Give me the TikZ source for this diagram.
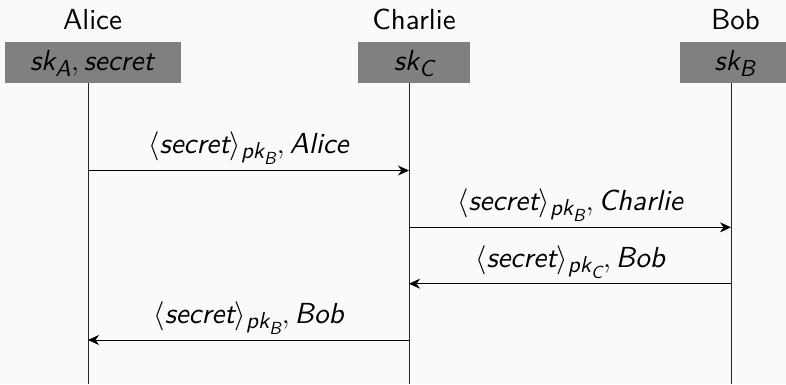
\documentclass[tikz,border=0pt]{standalone}
\usepackage{fix-cm}
\usepackage{fontspec}
\setsansfont{lmsans10-regular.otf}[ItalicFont=lmsans10-oblique.otf, SlantedFont=lmsans10-oblique.otf]
\newfontfamily\sfslfam{lmsans10-oblique.otf}[NFSSFamily=lmsssl]
\usetikzlibrary{arrows.meta}
\DeclareMathAlphabet{\mathsi}{TU}{lmsssl}{m}{n}
\DeclareMathSizes{29}{29}{23}{17.5}
\definecolor{bg}{HTML}{FAFAFA}
\definecolor{boxgray}{HTML}{808080}
\newcommand{\enc}[2]{$\langle\mathsi{secret}\rangle_{\mathsi{pk}_{\mathsi{#1}}},\mathsi{#2}$}
\begin{document}
\begin{tikzpicture}[x=1pt,y=-1pt,
  every node/.style={font=\fontsize{29}{34}\selectfont\sffamily, inner sep=0pt},
  hdr/.style={anchor=base},
  keybox/.style={fill=boxgray, draw=none, minimum height=41pt},
  life/.style={line width=0.9pt, draw=black!85},
  msg/.style={line width=0.9pt, -{Stealth[length=11pt,width=10pt,inset=3.5pt]}},
  lbl/.style={anchor=base}]
\fill[bg] (0,0) rectangle (786,384);
\useasboundingbox (0,0) rectangle (786,384);
% headers
\node[hdr] (tA) at (92.5,29) {Alice};
\node[hdr] (tC) at (414,29) {Charlie};
\node[hdr] (tB) at (735.5,29) {Bob};
% boxes
\node[keybox, minimum width=176pt] (bA) at (93,62.5) {};
\node[keybox, minimum width=112pt] (bC) at (414,62.5) {};
\node[keybox, minimum width=112pt] (bB) at (736,62.5) {};
\node[lbl] (kA) at (92,70.7) {$\mathsi{sk}_{\mathsi{A}},\mathsi{secret}$};
\node[lbl] (kC) at (414,70.7) {$\mathsi{sk}_{\mathsi{C}}$};
\node[lbl] (kB) at (735,70.7) {$\mathsi{sk}_{\mathsi{B}}$};
% lifelines
\coordinate (A0) at (88,83);  \coordinate (A9) at (88,384);
\coordinate (C0) at (409,83); \coordinate (C9) at (409,384);
\coordinate (B0) at (731,83); \coordinate (B9) at (731,384);
\draw[life] (A0) -- (A9);
\draw[life] (C0) -- (C9);
\draw[life] (B0) -- (B9);
% message end points
\coordinate (A1) at (88,170.5);  \coordinate (C1) at (409,170.5);
\coordinate (C2) at (409,227.3); \coordinate (B2) at (731,227.3);
\coordinate (B3) at (731,283.7); \coordinate (C3) at (409,283.7);
\coordinate (C4) at (409,340);   \coordinate (A4) at (88,340);
\draw[msg] (A1) -- (C1);
\draw[msg] (C2) -- (B2);
\draw[msg] (B3) -- (C3);
\draw[msg] (C4) -- (A4);
% labels
\node[lbl] (m1) at (248.5,153) {\enc{B}{Alice}};
\node[lbl] (m2) at (570,210) {\enc{B}{Charlie}};
\node[lbl] (m3) at (570,267) {\enc{C}{Bob}};
\node[lbl] (m4) at (248.5,323) {\enc{B}{Bob}};
\end{tikzpicture}
\end{document}
